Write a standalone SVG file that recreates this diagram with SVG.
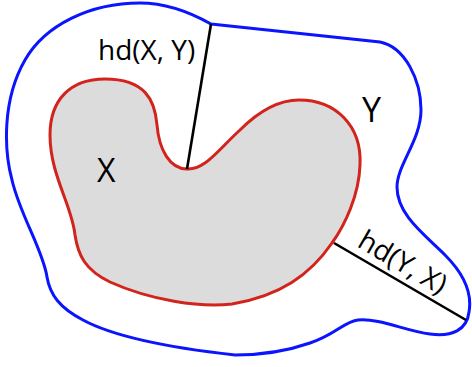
<svg xmlns="http://www.w3.org/2000/svg" width="472" height="367" viewBox="0 0 472 367">
<style>
.lbl{font-family:"Open Sans","Noto Sans","DejaVu Sans",sans-serif;fill:#000;}
.conn{stroke:#000;stroke-width:2.6;fill:none;}
</style>
<rect width="472" height="367" fill="#fff"/>
<g id="Y">
<path d="M211,24 L380,42 C405,47 421,80 421,110 C421,140 397,165 397,187 C397,215 425,235 445,255 C465,275 472,295 469,312 C467,330 452,337 430,334 C405,331 380,318 358,320 C345,321 335,335 310,343 C290,350 265,355 235,355 C190,350 120,340 83,320 C60,308 50,295 47,277 C43,250 20,215 12,180 C4,150 2,100 25,60 C45,25 90,3 140,3 C170,3 195,15 211,24 Z" fill="none" stroke="#0a14ff" stroke-width="3"/>
<text class="lbl" x="362" y="122" font-size="34">Y</text>
</g>
<g id="X">
<path d="M187,169 C205,170 218,150 240,130 C260,110 280,100 299,100 C335,100 362,125 360,165 C359,195 345,225 332,243 C310,275 280,296 232,304 C200,308 150,300 110,282 C85,270 78,255 75,235 C72,205 50,175 50,135 C50,100 70,79 105,79 C145,79 155,100 157,125 C159,150 170,169 187,169 Z" fill="#dcdcdc" stroke="#d2231c" stroke-width="3"/>
<text class="lbl" x="97" y="182" font-size="32">X</text>
</g>
<g id="connectors">
<line class="conn" x1="211" y1="24" x2="187" y2="169"/>
<line class="conn" x1="334" y1="243" x2="466" y2="320"/>
<text class="lbl" x="98" y="60" font-size="28">hd(X, Y)</text>
<text class="lbl" font-size="28" transform="translate(356,246) rotate(30.3)">hd(Y, X)</text>
</g>
</svg>
